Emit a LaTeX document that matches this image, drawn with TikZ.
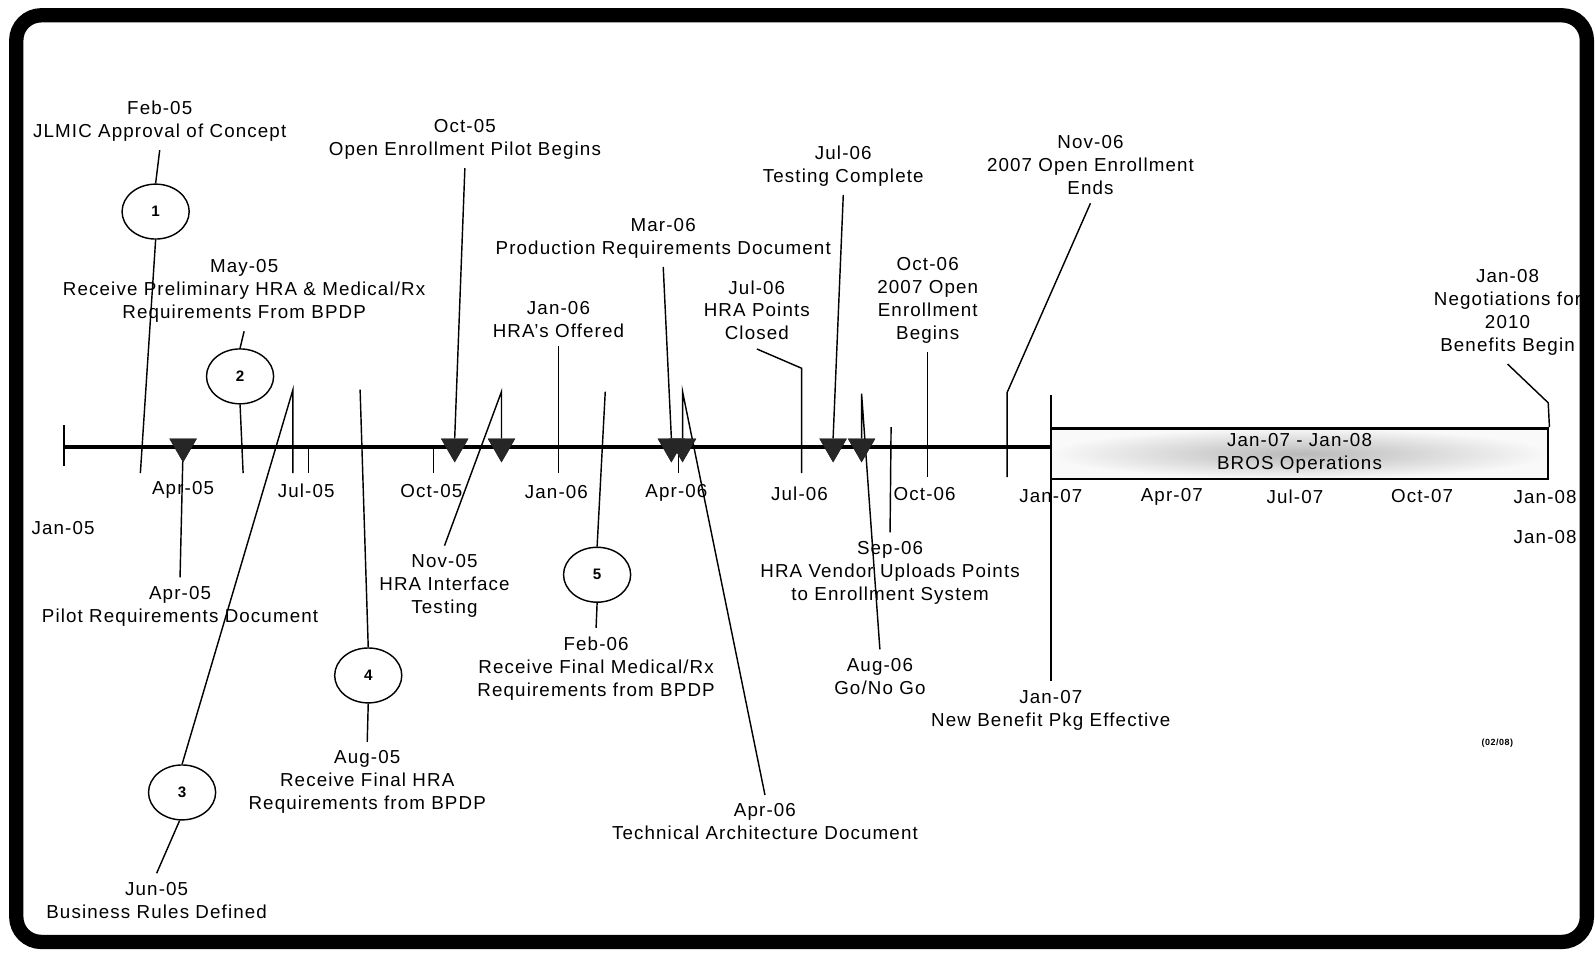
\documentclass[tikz,border=0pt]{standalone}
\usepackage{fontspec}
\setmainfont{Liberation Sans}[LetterSpace=6]
\usetikzlibrary{shapes.geometric, calc}

\begin{document}
\begin{tikzpicture}[x=0.02cm, y=-0.02cm,
    font=\fontsize{10.5}{12.8}\selectfont,
    lbl/.style={align=center, inner sep=0pt, outer sep=5pt},
    dt/.style={inner sep=0pt},
    lead/.style={line width=0.8pt},
    num/.style={draw, ellipse, line width=0.8pt, minimum width=1.32cm, minimum height=1.08cm,
        inner sep=0pt, font=\fontsize{8.5}{10}\selectfont\bfseries},
    tri/.style={regular polygon, regular polygon sides=3, shape border rotate=180,
        fill=black!85, minimum size=0.62cm, inner sep=0pt}]
    \useasboundingbox (0,0) rectangle (1568,937);
    \draw[line width=8pt, rounded corners=14pt] (16,15) rectangle (1560,926);

    % milestones
    \node[lbl] (feb05) at (157,119) {Feb-05\\JLMIC Approval of Concept};
    \node[lbl] (may05) at (240,286) {May-05\\Receive Preliminary HRA \& Medical/Rx\\Requirements From BPDP};
    \node[lbl] (apr05) at (177,596) {Apr-05\\Pilot Requirements Document};
    \node[lbl] (jun05) at (154,885) {Jun-05\\Business Rules Defined};
    \node[lbl] (aug05) at (361,769) {Aug-05\\Receive Final HRA\\Requirements from BPDP};
    \node[lbl] (oct05) at (457,137) {Oct-05\\Open Enrollment Pilot Begins};
    \node[lbl] (nov05) at (437,576) {Nov-05\\HRA Interface\\Testing};
    \node[lbl] (jan06) at (549,314) {Jan-06\\HRA's Offered};
    \node[lbl] (feb06) at (586,657) {Feb-06\\Receive Final Medical/Rx\\Requirements from BPDP};
    \node[lbl] (mar06) at (652,234) {Mar-06\\Production Requirements Document};
    \node[lbl] (apr06) at (752,808) {Apr-06\\Technical Architecture Document};
    \node[lbl] (jul06a) at (744,305) {Jul-06\\HRA Points\\Closed};
    \node[lbl] (jul06b) at (829,163) {Jul-06\\Testing Complete};
    \node[lbl] (aug06) at (865,665) {Aug-06\\Go/No Go};
    \node[lbl] (sep06) at (875,563) {Sep-06\\HRA Vendor Uploads Points\\to Enrollment System};
    \node[lbl] (oct06) at (912,295) {Oct-06\\2007 Open\\Enrollment\\Begins};
    \node[lbl] (nov06) at (1072,162) {Nov-06\\2007 Open Enrollment\\Ends};
    \node[lbl] (jan07) at (1033,698) {Jan-07\\New Benefit Pkg Effective};
    \node[lbl] (jan08) at (1482,307) {Jan-08\\Negotiations for\\2010\\Benefits Begin};
    \node[font=\fontsize{5}{6}\selectfont\bfseries] (rev) at (1472,731) {(02/08)};

    \node[num] (c1) at (153,208) {1};
    \node[num] (c2) at (236,370) {2};
    \node[num] (c3) at (179,779) {3};
    \node[num] (c4) at (362,664) {4};
    \node[num] (c5) at (587,565) {5};

    \node[draw, line width=1.4pt, shade, inner color=gray!55, outer color=gray!5,
        minimum width=9.78cm, minimum height=1cm, inner sep=0pt, align=center]
        (bros) at (1277.5,446) {Jan-07 - Jan-08\\BROS Operations};

    % axis
    \coordinate (a0) at (63,439);
    \foreach \x/\t/\y in {180/Apr-05/482, 301/Jul-05/482, 424/Oct-05/483, 547/Jan-06/484,
        665/Apr-06/485, 786/Jul-06/485, 909/Oct-06/486, 1033/Jan-07/488, 1152/Apr-07/488,
        1273/Jul-07/488, 1398/Oct-07/488, 1519/Jan-08/489, 62/Jan-05/519, 1519/Jan-08/528}
        \node[dt] (ax-\x-\y) at (\x,\y) {\t};
    \draw[lead] (63,418) -- (63,458);
    \foreach \x in {303,426,667}
        \draw[lead] (\x,439) -- (\x,465);

    \coordinate (e-feb05) at (138,465);
    \coordinate (e-may05) at (239,465);
    \coordinate (k-jun05) at (288,383);
    \coordinate (e-jun05) at (288,465);
    \coordinate (k-aug05) at (354,383);
    \coordinate (k-nov05) at (493,385);
    \coordinate (e-jan06) at (549,465);
    \coordinate (k-feb06) at (595,385);
    \coordinate (k-apr06) at (671,385);
    \coordinate (k-jul06) at (788,362);
    \coordinate (e-jul06) at (788,465);
    \coordinate (k-aug06) at (847,387);
    \coordinate (k-sep06) at (876,420);
    \coordinate (e-oct06) at (912,469);
    \coordinate (k-nov06) at (990,386);
    \coordinate (e-nov06) at (990,469);
    \coordinate (k-jan07) at (1033,388);
    \coordinate (k-jan08) at (1522,396);

    \node[tri] (tri-apr05) at (180,439) {};
    \node[tri] (tri-oct05) at (447,439) {};
    \node[tri] (tri-nov05) at (493,439) {};
    \node[tri] (tri-mar06) at (660,439) {};
    \node[tri] (tri-apr06) at (671,439) {};
    \node[tri] (tri-jul06) at (819,439) {};
    \node[tri] (tri-aug06) at (847,439) {};

    \draw[lead] (feb05.south) -- (c1.north);
    \draw[lead] (c1.south) -- (e-feb05);
    \draw[lead] (may05.south) -- (c2.north);
    \draw[lead] (c2.south) -- (e-may05);
    \draw[lead] (jun05.north) -- (c3.265);
    \draw[lead] (c3.north) -- (k-jun05) -- (e-jun05);
    \draw[lead] (aug05.north) -- (c4.south);
    \draw[lead] (c4.north) -- (k-aug05);
    \draw[lead] (feb06.north) -- (c5.south);
    \draw[lead] (c5.north) -- (k-feb06);
    \draw[lead] (apr05.north) -- (tri-apr05.center);
    \draw[lead] (oct05.south) -- (tri-oct05.north);
    \draw[lead] (nov05.north) -- (k-nov05) -- (tri-nov05.north);
    \draw[lead] (jan06.south) -- (e-jan06);
    \draw[lead] (mar06.south) -- (tri-mar06.north);
    \draw[lead] (apr06.north) -- (k-apr06) -- (tri-apr06.north);
    \draw[lead] (jul06a.south) -- (k-jul06) -- (e-jul06);
    \draw[lead] (jul06b.south) -- (tri-jul06.north);
    \draw[lead] (aug06.north) -- (k-aug06) -- (tri-aug06.north);
    \draw[lead] (sep06.north) -- (k-sep06);
    \draw[lead] (oct06.south) -- (e-oct06);
    \draw[lead] (nov06.south) -- (k-nov06) -- (e-nov06);
    \draw[lead] (jan07.north) -- (k-jan07);
    \draw[lead] (jan08.south) -- (k-jan08) -- (bros.north east);

    \draw[line width=2.3pt] (a0) -- (a0 -| bros.west);
    \foreach \n in {apr05,oct05,nov05,mar06,apr06,jul06,aug06}
        \node[tri] at (tri-\n) {};
\end{tikzpicture}
\end{document}
